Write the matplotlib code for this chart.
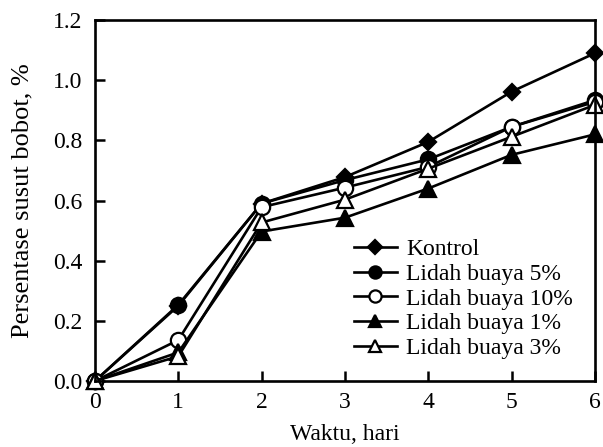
import matplotlib
matplotlib.use("Agg")
import matplotlib.pyplot as plt

days = [0, 1, 2, 3, 4, 5, 6]
kontrol = [0.0, 0.25, 0.59, 0.678, 0.795, 0.962, 1.09]
lb5 = [0.0, 0.253, 0.59, 0.668, 0.737, 0.845, 0.934]
lb10 = [0.0, 0.136, 0.578, 0.643, 0.712, 0.845, 0.928]
lb1 = [0.0, 0.095, 0.497, 0.543, 0.64, 0.752, 0.82]
lb3 = [0.0, 0.082, 0.527, 0.603, 0.706, 0.812, 0.918]

series = [
    ("Kontrol", kontrol, "D", "black"),
    ("Lidah buaya 5%", lb5, "o", "black"),
    ("Lidah buaya 10%", lb10, "o", "white"),
    ("Lidah buaya 1%", lb1, "^", "black"),
    ("Lidah buaya 3%", lb3, "^", "white"),
]

plt.rcParams['font.family'] = ['Liberation Serif', 'DejaVu Serif']
fig = plt.figure(figsize=(6.03, 4.47), dpi=100)
ax = fig.add_axes([0.1575, 0.1477, 0.829, 0.8073])

for name, vals, m, fc in series:
    ms = 8.5 if m == "D" else 11
    ax.plot(days, vals, color="black", lw=1.9, marker=m, markersize=ms,
            markerfacecolor=fc, markeredgecolor="black", markeredgewidth=1.6,
            label=name, clip_on=False)

ax.set_xlim(0, 6)
ax.set_ylim(0, 1.2)
ax.set_xticks(range(0, 7))
ax.set_yticks([0.0, 0.2, 0.4, 0.6, 0.8, 1.0, 1.2])
ax.set_yticklabels(["0.0", "0.2", "0.4", "0.6", "0.8", "1.0", "1.2"])
ax.tick_params(direction="in", length=7, width=1.8, labelsize=17)
ax.tick_params(axis="y", pad=9)
ax.tick_params(axis="x", pad=8)
for s in ax.spines.values():
    s.set_linewidth(1.9)
ax.set_xlabel("Waktu, hari", fontsize=17, labelpad=8)
ax.set_ylabel("Persentase susut bobot, %", fontsize=19, labelpad=14)

leg = ax.legend(loc="upper right", frameon=False, fontsize=17, handlelength=1.8,
                labelspacing=0.13, handletextpad=0.4, borderaxespad=0.0,
                markerscale=0.8, bbox_to_anchor=(0.975, 0.42))

fig.savefig("out.png", dpi=100)
